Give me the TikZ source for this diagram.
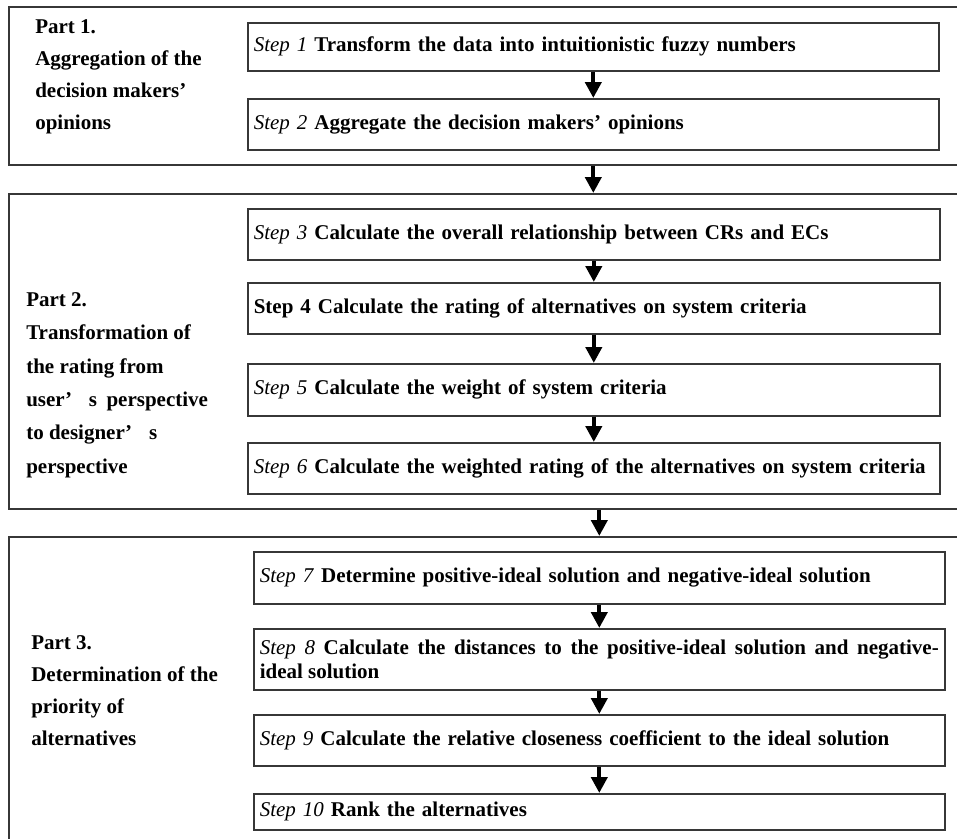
\documentclass[tikz,border=0pt]{standalone}
\usepackage{fontspec}
\setmainfont{Liberation Serif}
\usetikzlibrary{arrows.meta}
\definecolor{boxline}{RGB}{55,55,55}
\newcommand{\stp}[1]{\textit{\mdseries Step #1}}
\hyphenpenalty=10000
\begin{document}
\begin{tikzpicture}[x=0.75pt,y=-0.75pt,
  partbox/.style={draw=boxline,line width=1.2pt,rectangle,inner sep=0pt,anchor=north west},
  stepbox/.style={draw=boxline,line width=1.2pt,rectangle,inner xsep=4.5pt,inner ysep=0pt,
    anchor=north west,align=left,font=\fontsize{15.75}{18}\selectfont\bfseries},
  partlabel/.style={inner sep=0pt,anchor=west,align=left,font=\fontsize{15.75}{24}\selectfont\bfseries},
  flow/.style={line width=3pt,-{Triangle[width=12pt,length=12pt]}}]
\useasboundingbox (0,0) rectangle (957,839);
% part frames
\node[partbox,minimum width=715.5pt,minimum height=118.5pt] (p1) at (8,6) {};
\node[partbox,minimum width=715.5pt,minimum height=236.25pt] (p2) at (8,193) {};
\node[partbox,minimum width=715.5pt,minimum height=240pt] (p3) at (8,536) {};
% part labels
\node[partlabel] (l1) at (35,76.5) {Part 1.\\Aggregation of the\\decision makers’\\opinions};
\node[partlabel,font=\fontsize{15.75}{25}\selectfont\bfseries] (l2) at (26,385) {Part 2.\\Transformation of\\the rating from\\user’\hspace{0.8em}s\hspace{0.45em}perspective\\to designer’\hspace{0.8em}s\\perspective};
\node[partlabel] (l3) at (31,691) {Part 3.\\Determination of the\\priority of\\alternatives};
% steps
\node[stepbox,text width=509.25pt,minimum height=36pt] (s1) at (247,22) {\stp{1} Transform the data into intuitionistic fuzzy numbers};
\node[stepbox,text width=509.25pt,minimum height=38.25pt] (s2) at (247,98) {\stp{2} Aggregate the decision makers’ opinions};
\node[stepbox,text width=510pt,minimum height=38.25pt] (s3) at (247,208) {\stp{3} Calculate the overall relationship between CRs and ECs};
\node[stepbox,text width=510pt,minimum height=38.25pt] (s4) at (247,282) {Step 4 Calculate the rating of alternatives on system criteria};
\node[stepbox,text width=510pt,minimum height=39pt] (s5) at (247,363) {\stp{5} Calculate the weight of system criteria};
\node[stepbox,text width=510pt,minimum height=38.25pt] (s6) at (247,442) {\stp{6} Calculate the weighted rating of the alternatives on system criteria};
\node[stepbox,text width=509.25pt,minimum height=39pt] (s7) at (253,551) {\stp{7} Determine positive-ideal solution and negative-ideal solution};
\node[stepbox,text width=509.25pt,minimum height=45.75pt,align=justify] (s8) at (253,628) {\stp{8} Calculate the distances to the positive-ideal solution and negative-\linebreak ideal solution};
\node[stepbox,text width=509.25pt,minimum height=38.25pt] (s9) at (253,714) {\stp{9} Calculate the relative closeness coefficient to the ideal solution};
\node[stepbox,text width=509.25pt,minimum height=27pt] (s10) at (253,793) {\stp{10} Rank the alternatives};
% arrows
\draw[flow] (s1.south) -- (s2.north);
\draw[flow] (p1.south -| s2.south) -- (p2.north -| s2.south);
\draw[flow] (s3.south) -- (s4.north);
\draw[flow] (s4.south) -- (s5.north);
\draw[flow] (s5.south) -- (s6.north);
\draw[flow] (p2.south -| s7.north) -- (p3.north -| s7.north);
\draw[flow] (s7.south) -- (s8.north);
\draw[flow] (s8.south) -- (s9.north);
\draw[flow] (s9.south) -- (s10.north);
\end{tikzpicture}
\end{document}
